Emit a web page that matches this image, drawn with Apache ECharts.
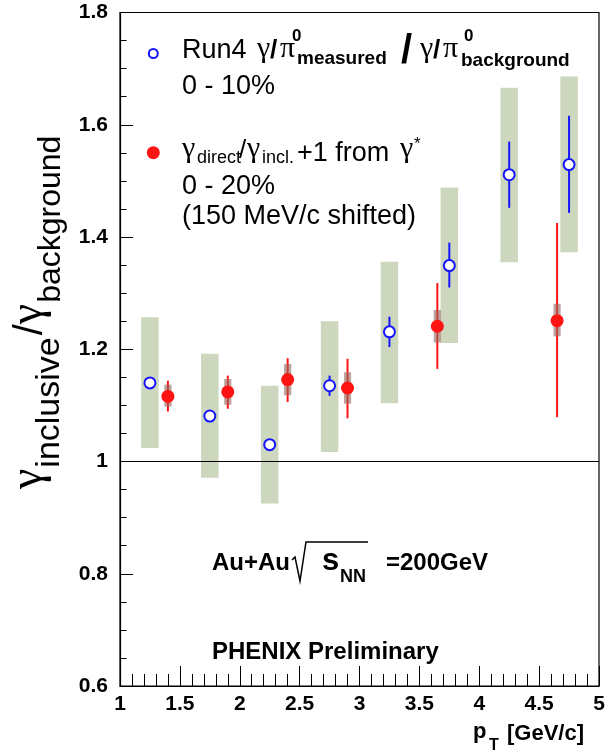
<!DOCTYPE html>
<html>
<head>
<meta charset="utf-8">
<script src="https://cdn.jsdelivr.net/npm/echarts@6/dist/echarts.min.js"></script>
<style>
html,body{margin:0;padding:0;background:#fff;}
#chart{width:606px;height:755px;}
</style>
</head>
<body>
<div id="chart"></div>
<script>
// ---- data ----
const blueX      = [1.25, 1.75, 2.25, 2.75, 3.25, 3.75, 4.25, 4.75];
const blueY      = [1.140, 1.081, 1.030, 1.135, 1.231, 1.349, 1.511, 1.529];
const blueStatLo = [1.133, 1.074, 1.023, 1.117, 1.204, 1.310, 1.452, 1.443];
const blueStatHi = [1.147, 1.088, 1.037, 1.153, 1.258, 1.390, 1.570, 1.616];
const blueSysLo  = [1.024, 0.971, 0.925, 1.017, 1.104, 1.211, 1.355, 1.373];
const blueSysHi  = [1.257, 1.192, 1.135, 1.250, 1.356, 1.488, 1.666, 1.686];

const redX       = [1.40, 1.90, 2.40, 2.90, 3.65, 4.65];
const redY       = [1.116, 1.124, 1.146, 1.131, 1.241, 1.251];
const redStatLo  = [1.089, 1.094, 1.106, 1.077, 1.165, 1.079];
const redStatHi  = [1.144, 1.153, 1.184, 1.183, 1.318, 1.425];
const redSysLo   = [1.098, 1.101, 1.118, 1.103, 1.212, 1.223];
const redSysHi   = [1.137, 1.147, 1.174, 1.159, 1.270, 1.281];

const xTickLabels = ['1', '1.5', '2', '2.5', '3', '3.5', '4', '4.5', '5'];
const yTickLabels = ['0.6', '0.8', '1', '1.2', '1.4', '1.6', '1.8'];
const refLine = 1;

// ---- styling ----
const SANS = "'Liberation Sans', Arial, Helvetica, sans-serif";
const SERIF = "'Liberation Serif', 'Times New Roman', serif";
const BLUE = '#1414ff';
const RED = '#ff1414';
const BOX = '#cdd7be';
const RSYS = 'rgba(150,100,90,0.6)';

const chart = echarts.init(document.getElementById('chart'), null, {renderer: 'canvas'});

const mctx = document.createElement('canvas').getContext('2d');
function tw(text, font) { mctx.font = font; return mctx.measureText(text).width; }
function fontOf(p) { return (p.wt || 'normal') + ' ' + p.fs + 'px ' + (p.fam || SANS); }
function T(text, x, base, fs, opts) {
  opts = opts || {};
  const font = (opts.wt || 'normal') + ' ' + fs + 'px ' + (opts.fam || SANS);
  return {type: 'text', x: x, y: base - 0.35 * fs, z: 100,
    style: {text: text, font: font, fill: opts.fill || '#000',
      align: 'left', textAlign: 'left', verticalAlign: 'middle', textVerticalAlign: 'middle'}};
}
// vertical (bottom-to-top) run of text pieces
function vrun(xBase, yStart, pieces) {
  const out = []; let s = 0;
  for (const p of pieces) {
    s += (p.gap || 0);
    const font = fontOf(p);
    out.push({type: 'text', x: xBase + (p.dy || 0) - 0.35 * p.fs, y: yStart - s, rotation: Math.PI / 2, z: 100,
      style: {text: p.t, font: font, fill: '#000', align: 'left', textAlign: 'left', verticalAlign: 'middle', textVerticalAlign: 'middle'}});
    s += tw(p.t, font);
  }
  return out;
}

const graphics = [];
// y-axis title
graphics.push(...vrun(45, 489, [
  {t: 'γ', fs: 46, fam: SERIF},
  {t: 'inclusive', fs: 34, dy: 17, gap: 1},
  {t: '/', fs: 40, gap: 2},
  {t: 'γ', fs: 46, fam: SERIF, gap: 0},
  {t: 'background', fs: 32, dy: 17, gap: 1}
]));
// x-axis title
graphics.push(T('p', 473, 740, 22, {wt: 'bold'}));
graphics.push(T('T', 489, 751, 16, {wt: 'bold'}));
graphics.push(T('[GeV/c]', 507, 742, 22, {wt: 'bold'}));

// legend: blue
graphics.push({type: 'circle', z: 100, shape: {cx: 153.3, cy: 53.5, r: 4.5}, style: {fill: '#fff', stroke: BLUE, lineWidth: 2}});
graphics.push(T('Run4', 182, 60, 27));
graphics.push(T('γ', 257, 60, 30, {fam: SERIF}));
graphics.push(T('/', 270, 60, 26, {wt: 'bold'}));
graphics.push(T('π', 280, 60, 30, {fam: SERIF}));
graphics.push(T('0', 292, 42, 17, {wt: 'bold'}));
graphics.push(T('measured', 297, 65, 19, {wt: 'bold'}));
graphics.push(T('/', 401, 66, 40, {wt: 'bold'}));
graphics.push(T('γ', 420, 60, 30, {fam: SERIF}));
graphics.push(T('/', 433, 60, 26, {wt: 'bold'}));
graphics.push(T('π', 443, 60, 30, {fam: SERIF}));
graphics.push(T('0', 464, 42, 17, {wt: 'bold'}));
graphics.push(T('background', 461, 67, 19, {wt: 'bold'}));
graphics.push(T('0 - 10%', 182, 96, 27));
// legend: red
graphics.push({type: 'circle', z: 100, shape: {cx: 153.3, cy: 152.7, r: 6.5}, style: {fill: RED}});
graphics.push(T('γ', 182, 160, 30, {fam: SERIF}));
graphics.push(T('direct', 197, 164, 18));
graphics.push(T('/', 239, 160, 26));
graphics.push(T('γ', 247, 160, 30, {fam: SERIF}));
graphics.push(T('incl.', 262, 164, 18));
graphics.push(T('+1 from', 297, 163, 27));
graphics.push(T('γ', 400, 160, 30, {fam: SERIF}));
graphics.push(T('*', 414, 150, 17));
graphics.push(T('0 - 20%', 182, 196, 27));
graphics.push(T('(150 MeV/c shifted)', 182, 226, 27));
// annotations
graphics.push(T('Au+Au', 212, 572, 24, {wt: 'bold'}));
graphics.push({type: 'polyline', z: 100, shape: {points: [[292, 560], [295, 557], [300, 581], [306, 542], [368, 542]]}, style: {stroke: '#000', lineWidth: 1.5, fill: null}});
graphics.push(T('s', 322, 572, 31, {wt: 'bold'}));
graphics.push(T('NN', 340, 583, 18, {wt: 'bold'}));
graphics.push(T('=200GeV', 386, 572, 24, {wt: 'bold'}));
graphics.push(T('PHENIX Preliminary', 212, 661, 24, {wt: 'bold'}));

function rows() { const a = arguments; return a[0].map((_, i) => Array.from(a, arr => arr[i])); }

const option = {
  backgroundColor: '#fff',
  animation: false,
  grid: {left: 120, right: 7, top: 12.5, bottom: 69, containLabel: false, outerBoundsMode: 'none',
    show: true, borderColor: '#000', borderWidth: 1.2, backgroundColor: 'transparent'},
  xAxis: {
    type: 'value', min: 1, max: 5, interval: 0.5,
    axisLine: {show: true, onZero: false, lineStyle: {color: '#000', width: 1.2}},
    axisTick: {show: true, inside: true, length: 20, lineStyle: {color: '#000', width: 1}},
    minorTick: {show: true, splitNumber: 5, length: 12, lineStyle: {color: '#000', width: 1}},
    splitLine: {show: false}, minorSplitLine: {show: false},
    axisLabel: {show: true, color: '#000', fontFamily: SANS, fontWeight: 'bold', fontSize: 21, margin: 8,
      formatter: v => xTickLabels[Math.round((v - 1) / 0.5)]}
  },
  yAxis: {
    type: 'value', min: 0.6, max: 1.8, interval: 0.2,
    axisLine: {show: true, onZero: false, lineStyle: {color: '#000', width: 1.2}},
    axisTick: {show: true, inside: true, length: 13, lineStyle: {color: '#000', width: 1}},
    minorTick: {show: true, splitNumber: 4, length: 6.5, lineStyle: {color: '#000', width: 1}},
    splitLine: {show: false}, minorSplitLine: {show: false},
    axisLabel: {show: true, color: '#000', fontFamily: SANS, fontWeight: 'bold', fontSize: 21, margin: 12,
      formatter: v => yTickLabels[Math.round((v - 0.6) / 0.2)]}
  },
  graphic: graphics,
  series: [
    {
      name: 'blueSys', type: 'custom', silent: true,
      data: rows(blueX, blueSysLo, blueSysHi),
      encode: {x: 0, y: [1, 2]},
      renderItem: (params, api) => {
        const x = api.value(0), lo = api.value(1), hi = api.value(2);
        const a = api.coord([x, hi]), b = api.coord([x, lo]);
        const hw = api.size([0.073, 0])[0];
        return {type: 'rect', shape: {x: a[0] - hw, y: a[1], width: 2 * hw, height: b[1] - a[1]}, style: {fill: BOX}};
      }
    },
    {
      name: 'blueStat', type: 'custom', silent: true,
      data: rows(blueX, blueStatLo, blueStatHi),
      encode: {x: 0, y: [1, 2]},
      renderItem: (params, api) => {
        const x = api.value(0);
        const a = api.coord([x, api.value(2)]), b = api.coord([x, api.value(1)]);
        return {type: 'line', shape: {x1: a[0], y1: a[1], x2: b[0], y2: b[1]}, style: {stroke: BLUE, lineWidth: 2}};
      }
    },
    {
      name: 'Run4', type: 'scatter', silent: true,
      data: rows(blueX, blueY),
      symbol: 'circle', symbolSize: 11,
      itemStyle: {color: '#fff', borderColor: BLUE, borderWidth: 2, opacity: 1},
      markLine: {silent: true, symbol: ['none', 'none'], label: {show: false},
        lineStyle: {color: '#000', width: 1.2, type: 'solid'}, data: [{yAxis: refLine}]}
    },
    {
      name: 'redStat', type: 'custom', silent: true,
      data: rows(redX, redStatLo, redStatHi),
      encode: {x: 0, y: [1, 2]},
      renderItem: (params, api) => {
        const x = api.value(0);
        const a = api.coord([x, api.value(2)]), b = api.coord([x, api.value(1)]);
        return {type: 'line', shape: {x1: a[0], y1: a[1], x2: b[0], y2: b[1]}, style: {stroke: RED, lineWidth: 2}};
      }
    },
    {
      name: 'redSys', type: 'custom', silent: true,
      data: rows(redX, redSysLo, redSysHi),
      encode: {x: 0, y: [1, 2]},
      renderItem: (params, api) => {
        const x = api.value(0);
        const a = api.coord([x, api.value(2)]), b = api.coord([x, api.value(1)]);
        const hw = api.size([0.03, 0])[0];
        return {type: 'rect', shape: {x: a[0] - hw, y: a[1], width: 2 * hw, height: b[1] - a[1]}, style: {fill: RSYS}};
      }
    },
    {
      name: 'direct', type: 'scatter', silent: true,
      data: rows(redX, redY),
      symbol: 'circle', symbolSize: 13,
      itemStyle: {color: RED, opacity: 1}
    }
  ]
};
chart.setOption(option);
</script>
</body>
</html>
